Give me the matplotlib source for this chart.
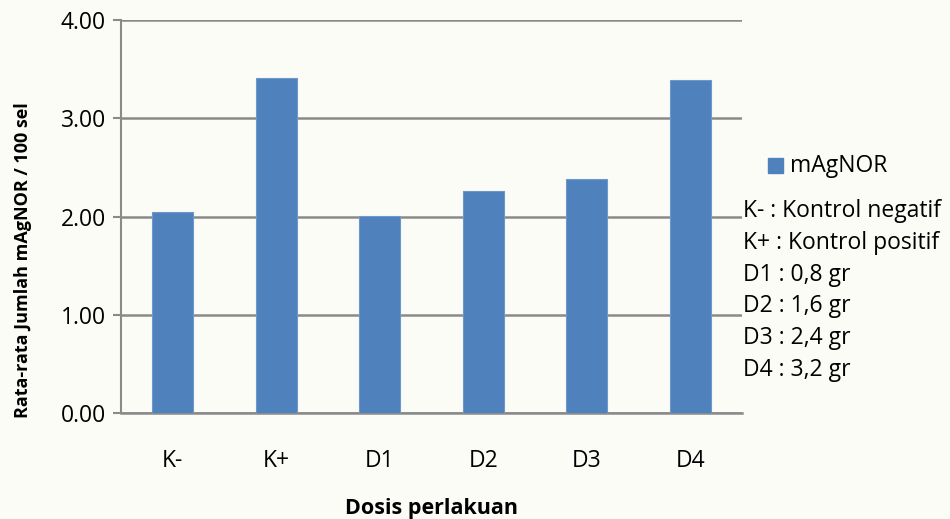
import matplotlib

matplotlib.use("Agg")
import matplotlib.pyplot as plt
from matplotlib.patches import Rectangle

# Mean mAgNOR count per 100 cells for each treatment group
groups = ["K-", "K+", "D1", "D2", "D3", "D4"]
magnor = [2.05, 3.41, 2.01, 2.26, 2.38, 3.39]
yticks = [0.0, 1.0, 2.0, 3.0, 4.0]
legend_notes = [
    "K- : Kontrol negatif",
    "K+ : Kontrol positif",
    "D1 : 0,8 gr",
    "D2 : 1,6 gr",
    "D3 : 2,4 gr",
    "D4 : 3,2 gr",
]

plt.rcParams["font.family"] = ["Open Sans", "DejaVu Sans"]

BG = "#fcfcf6"
BAR = "#4f81bd"
GRID = "#8a8a8a"

fig = plt.figure(figsize=(9.5, 5.19), dpi=100, facecolor=BG)
ax = fig.add_axes([0.1274, 0.2042, 0.6537, 0.7573], facecolor=BG)

x = range(len(groups))
ax.bar(x, magnor, width=0.4, color=BAR, edgecolor="#6f97c9", linewidth=0.8, zorder=3)

ax.set_xlim(-0.5, len(groups) - 0.5)
ax.set_ylim(0, 4)
ax.set_yticks(yticks)
ax.set_yticklabels([f"{v:.2f}" for v in yticks], fontsize=16.5)
ax.set_xticks(list(x))
ax.set_xticklabels(groups, fontsize=16.5)
ax.tick_params(axis="x", length=0, pad=26)
ax.tick_params(axis="y", length=6, width=1.5, color=GRID, pad=5)

ax.grid(axis="y", color=GRID, linewidth=1.8, zorder=0)
for side in ("top", "right"):
    ax.spines[side].set_visible(False)
ax.spines["left"].set_color(GRID)
ax.spines["left"].set_linewidth(1.5)
ax.spines["bottom"].set_color(GRID)
ax.spines["bottom"].set_linewidth(1.8)

ax.set_ylabel("Rata-rata Jumlah mAgNOR / 100 sel", fontsize=13,
              fontweight="bold")
ax.yaxis.set_label_coords(-0.143, 0.39)
ax.set_xlabel("Dosis perlakuan", fontsize=15.5, fontweight="bold", labelpad=18)

# Legend swatch and dose key to the right of the plot
fig.patches.append(Rectangle((768 / 950, 1 - 173 / 519), 15 / 950, 15 / 519,
                             transform=fig.transFigure, color=BAR))
fig.text(790 / 950, 1 - 166 / 519, "mAgNOR", fontsize=16.5, va="center")
for i, note in enumerate(legend_notes):
    fig.text(743 / 950, 1 - (211 + i * 31.8) / 519, note, fontsize=16.5, va="center")

fig.savefig("out.png", dpi=100, facecolor=BG)
